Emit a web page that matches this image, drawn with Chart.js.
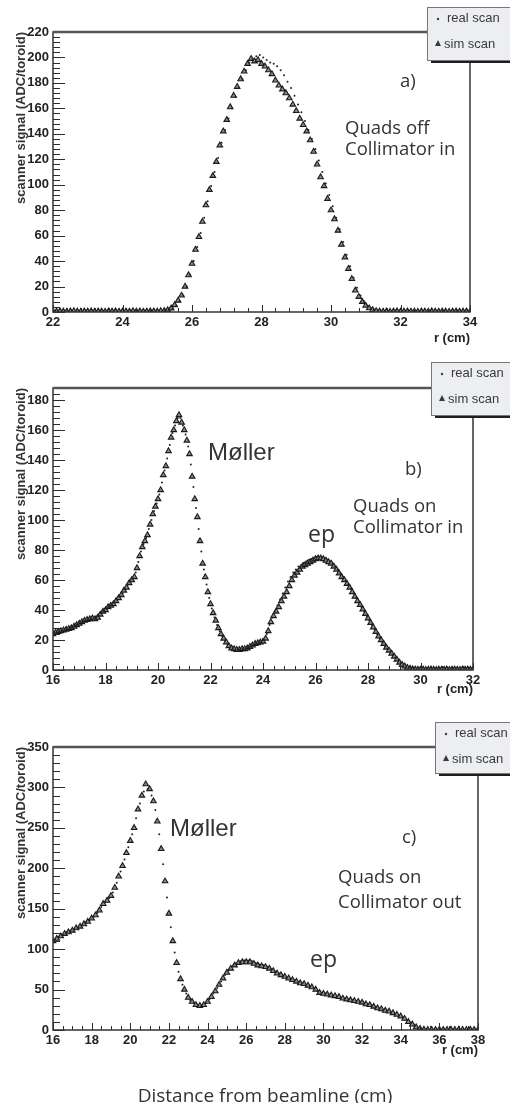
<!DOCTYPE html>
<html>
<head>
<meta charset="utf-8">
<script src="https://cdn.jsdelivr.net/npm/chart.js@4.4.1/dist/chart.umd.min.js"></script>
<style>
  body { margin: 0; background: #fff; width: 510px; height: 1103px; position: relative; overflow: hidden; }
  canvas { position: absolute; left: 0; }
  #xlab { position: absolute; left: 10px; width: 510px; top: 1082px; line-height: 19px; text-align: center;
          font: 19px "Open Sans", sans-serif; color: #333; }
</style>
</head>
<body>
<canvas id="scanA" width="510" height="350" style="top:0"></canvas>
<canvas id="scanB" width="510" height="355" style="top:345px"></canvas>
<canvas id="scanC" width="510" height="370" style="top:700px"></canvas>
<div id="xlab">Distance from beamline (cm)</div>
<script>
// a) Quads off, collimator in  -- sim: r = 22.0 + 0.1*i, real: r = 22.05 + 0.1*i
var simStartA = 22.0, realStartA = 22.05, stepA = 0.1;
var simA = [0.6,0.4,0.7,0.5,0.3,0.6,0.8,0.5,0.4,0.6,0.5,0.7,0.4,0.6,0.5,0.3,0.6,0.5,0.7,0.4,0.5,0.6,0.4,0.8,0.5,0.6,0.4,0.5,0.7,0.6,0.5,0.8,1.0,
  1.5,2.9,5.5,9,13,20,29,38,49,59,
  71,84,96,107,118,131,142,151,161,170,
  177,183,189,195,199,197,198,195,193,190,
  187,182,178,175,172,168,163,158,152,147,
  142,135,126,116,106,99,89,80,73,64,
  53,43,34,26,17,12,8,5,3,1.6,
  0.8,
  0.5,0.4,0.6,0.3,0.5,0.7,0.4,0.5,0.6,0.4,0.5,0.3,0.6,0.5,0.4,0.7,0.5,0.4,0.6,0.5,0.3,0.5,0.6,0.4,0.5,0.6,0.4];
var realA = [0.5,0.7,0.4,0.6,0.5,0.8,0.4,0.6,0.5,0.3,0.7,0.5,0.6,0.4,0.5,0.7,0.4,0.6,0.5,0.8,0.6,0.4,0.5,0.7,0.5,0.4,0.6,0.5,0.3,0.6,0.7,0.5,0.8,
  1,2.5,5,8.5,13,20,29,40,51,62,
  74,87,99,110,121,133,143,152,160,169,
  176,183,190,196,199,201,202,200,198,196,
  195,193,190,186,181,176,170,163,157,150,
  143,136,128,119,110,101,92,83,74,65,
  55,45,36,27,19,13,8.5,5,3,1.8,
  1,
  0.6,0.4,0.5,0.7,0.4,0.5,0.6,0.3,0.5,0.6,0.4,0.7,0.5,0.4,0.6,0.5,0.4,0.6,0.5,0.3,0.5,0.6,0.4,0.5,0.6,0.4];

// b) Quads on, collimator in
var simStartB = 16.0, realStartB = 16.05, stepB = 0.1;
var simB = [24,25,25.5,26,26.5,27,27.5,28,29,30,
  31,32,33,33.5,34,34.5,34,35,37,39,
  40,42,43,44,46,48,50,53,55,58,
  60,62,68,76,82,86,90,97,104,109,
  114,120,130,136,146,155,160,166,170,165,
  160,153,144,129,114,102,86,71,62,52,
  44,38,33,28,24,21,18.5,16,14.5,14,
  13.5,13.5,14,14,14.5,15.5,16.5,17.5,18,18.5,
  19,21,26,32,36,39,42,46,49,52,
  56,60,63,65,67,69,70,71,72,73,
  74,74.5,74.5,74,73,72,71,69,67,64.5,
  62,60,57.5,55,52,49,46,43.5,40.5,37.5,
  34.5,31.5,28.5,25.5,22.5,20,17.5,15,13,11,
  9,7,5,3.5,2.5,1.5,1,0.6,0.4,0.3,
  0.3,0.4,0.2,0.3,0.5,0.3,0.2,0.4,0.3,0.3,0.5,0.2,0.3,0.4,0.3,0.2,0.4,0.3,0.5,0.3,0.3];
var realB = [24.5,25,25.5,26,27,27.5,28,28.5,29.5,30.5,
  31.5,32.5,33,34,34.5,34.5,35,36,38,39.5,
  41,42.5,43.5,45,47,49,51,54,57,59,
  61,65,72,79,84,88,94,100,106,111,
  117,125,133,141,150,158,163,168,168,163,
  157,149,137,122,108,94,79,67,57,48,
  41,35,30,26,22.5,19.5,17,15,14,13.5,
  13.5,14,14,14.5,15,16,17,18,18.5,19,
  20,24,30,35,39,43,47,51,55,59,
  62,65,67,69,70,71.5,72.5,73.5,74,75,
  75.5,75.5,75,74.5,73.5,72.5,71,69,67,64.5,
  62,59.5,57,54,51,48,45,42,39,36,
  33,30,27,24,21,18.5,16,14,12,10,
  8,6,4.5,3,2,1.3,0.8,0.5,0.4,0.3,
  0.4,0.3,0.5,0.2,0.3,0.4,0.6,0.3,0.2,0.4,0.3,0.5,0.3,0.2,0.4,0.3,0.5,0.3,0.4,0.2];

// c) Quads on, collimator out
var simStartC = 16.0, realStartC = 16.1, stepC = 0.2;
var simC = [110,113,116,119,121,123,126,128,131,134,
  138,142,148,156,160,166,176,190,203,219,
  234,250,273,290,304,298,283,258,224,184,
  144,110,83,63,50,40,35,31,30,31,
  35,41,48,56,64,71,76,80,83,84,
  84,84,82,80,79,78,76,73,70,68,
  66,64,62,60,58,57,55,53,50,46,
  45,44,43,42,41,39,38,37,36,35,
  34,32,31,29,27,26,24,23,21,19,
  17,14,10,7,3.5,1.5,0.5,0.3,0.4,0.3,
  0.5,0.3,0.4,0.6,0.3,0.5,0.4,0.3,0.5,0.4,0.3];
var realC = [112,115,118,121,123,125,127,130,133,136,
  140,145,152,158,163,170,182,196,211,226,
  242,262,280,295,298,290,272,242,205,164,
  127,96,72,56,45,37,33,30.5,30.5,33,
  38,45,52,60,68,74,79,82,85,86,
  86,85,83,81,80,78,75,72,70,67,
  65,63,61,59,58,56,54,52,48,45,
  45,44,43,42,40,39,38,37,36,35,
  33,32,30,28,27,25,24,22,20,18,
  16,12,8.5,5,2.5,1,0.4,0.3,0.4,0.3,
  0.6,0.4,0.3,0.5,0.4,0.6,0.3,0.4,0.5,0.3];

var yTitle = 'scanner signal (ADC/toroid)';
var xTitle = 'r (cm)';
var seriesNames = ['real scan', 'sim scan'];

var arialFont = '"Liberation Sans", Arial, Helvetica, sans-serif';
var noteFont = '"Open Sans", sans-serif';
var ink = '#333';

function toPoints(start, step, vals) {
  return vals.map(function (v, i) { return { x: +(start + i * step).toFixed(2), y: v }; });
}

// inner ticks, frame, panel notes and the ROOT-style legend box
var scanDeco = {
  id: 'scanDeco',
  afterDraw: function (chart, args, o) {
    var ctx = chart.ctx, a = chart.chartArea, xs = chart.scales.x, ys = chart.scales.y;
    var i, n, v, p, major;
    ctx.save();
    ctx.strokeStyle = '#2a2a2a';
    ctx.lineWidth = 1;
    ctx.beginPath();
    n = Math.round((xs.max - xs.min) / o.xMinor);
    for (i = 0; i <= n; i++) {
      v = xs.min + i * o.xMinor;
      major = Math.abs(v / o.xMajor - Math.round(v / o.xMajor)) < 1e-6;
      p = Math.round(xs.getPixelForValue(v)) + 0.5;
      ctx.moveTo(p, a.bottom);
      ctx.lineTo(p, a.bottom - (major ? 7 : 4));
    }
    n = Math.round((ys.max - ys.min) / o.yMinor);
    for (i = 0; i <= n; i++) {
      v = ys.min + i * o.yMinor;
      if (v > ys.max) break;
      major = Math.abs(v / o.yMajor - Math.round(v / o.yMajor)) < 1e-6;
      p = Math.round(ys.getPixelForValue(v)) + 0.5;
      ctx.moveTo(a.left, p);
      ctx.lineTo(a.left + (major ? 12 : 7), p);
    }
    ctx.stroke();

    // frame
    ctx.strokeStyle = '#333';
    ctx.lineWidth = 1.5;
    ctx.strokeRect(a.left, a.top, a.right - a.left, a.bottom - a.top);
    ctx.lineWidth = 2.5;
    ctx.strokeStyle = '#555';
    ctx.beginPath();
    ctx.moveTo(a.left, a.top);
    ctx.lineTo(a.right, a.top);
    ctx.stroke();

    // notes
    ctx.fillStyle = ink;
    o.notes.forEach(function (t) {
      ctx.font = t.font;
      ctx.fillText(t.text, t.x, t.y);
    });

    // legend
    var L = o.legend, w = 90;
    ctx.fillStyle = '#1e1e1e';
    ctx.fillRect(L.x + 4, L.y + 3, w, L.h);
    ctx.fillStyle = '#eceef1';
    ctx.fillRect(L.x, L.y, w, L.h);
    ctx.strokeStyle = '#777';
    ctx.lineWidth = 1;
    ctx.strokeRect(L.x + 0.5, L.y + 0.5, w, L.h);
    ctx.fillStyle = '#3a3a3a';
    ctx.font = '13px ' + arialFont;
    ctx.fillText(seriesNames[0], L.x + 20, L.y + 15);
    ctx.fillText(seriesNames[1], L.x + 17, L.y + 41);
    ctx.beginPath();
    ctx.arc(L.x + 11, L.y + 12, 1.2, 0, Math.PI * 2);
    ctx.fill();
    ctx.beginPath();
    ctx.moveTo(L.x + 11, L.y + 33);
    ctx.lineTo(L.x + 14, L.y + 39);
    ctx.lineTo(L.x + 8, L.y + 39);
    ctx.closePath();
    ctx.fill();
    ctx.restore();
  }
};

function makeScan(id, p) {
  return new Chart(document.getElementById(id), {
    type: 'scatter',
    data: {
      datasets: [{
        label: seriesNames[0],
        data: toPoints(p.realStart, p.step, p.real),
        pointStyle: 'circle',
        pointRadius: 1,
        backgroundColor: '#222',
        borderWidth: 0
      }, {
        label: seriesNames[1],
        data: toPoints(p.simStart, p.step, p.sim),
        pointStyle: 'triangle',
        pointRadius: 3.2,
        backgroundColor: '#8a8a8a',
        borderColor: '#1a1a1a',
        borderWidth: 1.1
      }]
    },
    options: {
      responsive: false,
      animation: false,
      layout: { padding: p.pad },
      scales: {
        x: {
          type: 'linear', min: p.xMin, max: p.xMax,
          afterFit: function (s) { s.height = p.xHeight; },
          grid: { display: false, drawTicks: false },
          border: { display: false },
          ticks: { stepSize: 2, padding: 3, maxRotation: 0, autoSkip: false, color: '#222',
                   font: { family: arialFont, size: 13, weight: 'bold' } },
          title: { display: true, text: xTitle, align: 'end', padding: 0, color: '#222',
                   font: { family: arialFont, size: 13, weight: 'bold' } }
        },
        y: {
          type: 'linear', min: 0, max: p.yMax,
          afterFit: function (s) { s.width = 53; },
          afterBuildTicks: function (s) {
            var t = [];
            for (var v = 0; v <= p.yMax; v += p.yStep) t.push({ value: v });
            s.ticks = t;
          },
          grid: { display: false, drawTicks: false },
          border: { display: false },
          ticks: { stepSize: p.yStep, padding: 4, color: '#222',
                   font: { family: arialFont, size: 13, weight: 'bold' } },
          title: { display: true, text: yTitle, align: 'end', padding: { top: 14, bottom: 0 }, color: '#333',
                   font: { family: arialFont, size: 13, weight: 'bold' } }
        }
      },
      plugins: {
        legend: { display: false },
        tooltip: { enabled: false },
        scanDeco: p.deco
      }
    },
    plugins: [scanDeco]
  });
}

var bigNote = '18.5px ' + noteFont;
var mollerFont = '24px ' + arialFont;
var epFont = '23px ' + noteFont;

makeScan('scanA', {
  sim: simA, real: realA, simStart: simStartA, realStart: realStartA, step: stepA,
  xMin: 22, xMax: 34, yMax: 220, yStep: 20, xHeight: 34,
  pad: { left: 0, top: 32, right: 40, bottom: 4 },
  deco: {
    xMajor: 2, xMinor: 0.4, yMajor: 20, yMinor: 4,
    legend: { x: 427, y: 7, h: 53 },
    notes: [
      { text: 'a)', x: 400, y: 87, font: bigNote },
      { text: 'Quads off', x: 345, y: 134, font: bigNote },
      { text: 'Collimator in', x: 345, y: 155, font: bigNote }
    ]
  }
});

makeScan('scanB', {
  sim: simB, real: realB, simStart: simStartB, realStart: realStartB, step: stepB,
  xMin: 16, xMax: 32, yMax: 188, yStep: 20, xHeight: 27,
  pad: { left: 0, top: 43, right: 37, bottom: 3 },
  deco: {
    xMajor: 2, xMinor: 0.4, yMajor: 20, yMinor: 4,
    legend: { x: 431, y: 17, h: 53 },
    notes: [
      { text: 'Møller', x: 208, y: 115, font: mollerFont },
      { text: 'b)', x: 405, y: 130, font: bigNote },
      { text: 'Quads on', x: 353, y: 167, font: bigNote },
      { text: 'Collimator in', x: 353, y: 188, font: bigNote },
      { text: 'ep', x: 308, y: 197, font: epFont }
    ]
  }
});

makeScan('scanC', {
  sim: simC, real: realC, simStart: simStartC, realStart: realStartC, step: stepC,
  xMin: 16, xMax: 38, yMax: 350, yStep: 50, xHeight: 28,
  pad: { left: 0, top: 47, right: 32, bottom: 12 },
  deco: {
    xMajor: 2, xMinor: 0.5, yMajor: 50, yMinor: 10,
    legend: { x: 435, y: 22, h: 51 },
    notes: [
      { text: 'Møller', x: 170, y: 136, font: mollerFont },
      { text: 'c)', x: 402, y: 143, font: bigNote },
      { text: 'Quads on', x: 338, y: 183, font: bigNote },
      { text: 'Collimator out', x: 338, y: 208, font: bigNote },
      { text: 'ep', x: 310, y: 267, font: epFont }
    ]
  }
});
</script>
</body>
</html>
